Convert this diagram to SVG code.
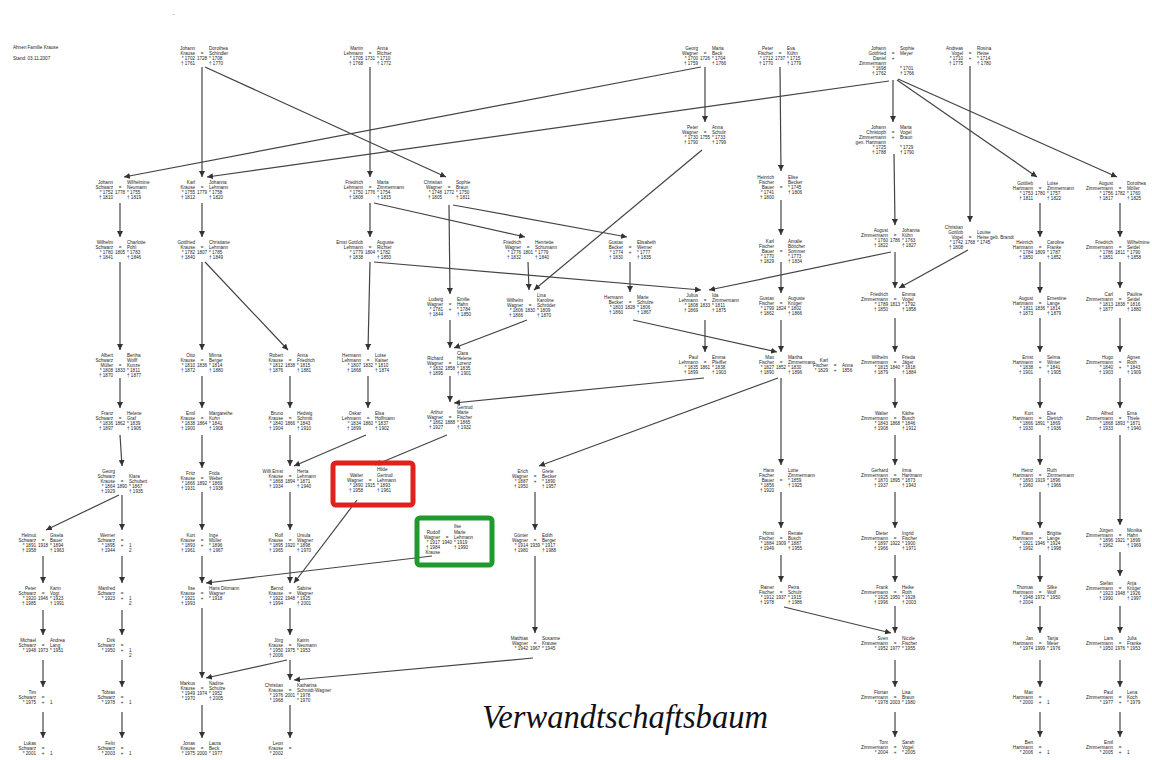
<svg xmlns="http://www.w3.org/2000/svg" width="1152" height="760" viewBox="0 0 1152 760">
<style>
text{font-family:"Liberation Sans",Arial,sans-serif;font-size:4.6px;fill:#1e1e1e}
.l{text-anchor:end}.m{text-anchor:middle}
.title{font-family:"Liberation Serif","DejaVu Serif",serif;font-style:italic;font-size:33px;fill:#111}
#connectors line{stroke:#444;stroke-width:1.2;fill:none;marker-end:url(#ah)}
.hl{fill:none;stroke-width:5;rx:3}
</style>
<defs>
<marker id="ah" viewBox="0 0 6 6" refX="6" refY="3" markerWidth="6" markerHeight="6" markerUnits="userSpaceOnUse" orient="auto"><path d="M0,0 L6,3 L0,6 z" fill="#333"/></marker>
</defs>
<rect width="1152" height="760" fill="#fff"/>
<text x="173" y="16">-</text>
<g id="header"><text x="13" y="49">Ahnen Familie Krause</text><text x="13" y="60">Stand: 03.11.2007</text></g>

<g id="connectors">
<line x1="202" y1="67" x2="202" y2="177"/>
<line x1="205" y1="67" x2="446" y2="177"/>
<line x1="370" y1="67" x2="370" y2="177"/>
<line x1="705" y1="67" x2="705" y2="122"/>
<line x1="701" y1="67" x2="124" y2="177"/>
<line x1="780" y1="67" x2="781" y2="171"/>
<line x1="893" y1="80" x2="893" y2="122"/>
<line x1="889" y1="81" x2="207" y2="177"/>
<line x1="897" y1="80" x2="1037" y2="177"/>
<line x1="898" y1="79" x2="1117" y2="177"/>
<line x1="970" y1="66" x2="970" y2="222"/>
<line x1="702" y1="150" x2="534" y2="290"/>
<line x1="894" y1="154" x2="895" y2="225"/>
<line x1="120" y1="203" x2="120" y2="237"/>
<line x1="202" y1="203" x2="202" y2="237"/>
<line x1="370" y1="203" x2="370" y2="237"/>
<line x1="374" y1="203" x2="525" y2="237"/>
<line x1="449" y1="205" x2="450" y2="294"/>
<line x1="453" y1="205" x2="627" y2="237"/>
<line x1="781" y1="200" x2="781" y2="235"/>
<line x1="1040" y1="203" x2="1040" y2="237"/>
<line x1="1120" y1="203" x2="1120" y2="237"/>
<line x1="120" y1="262" x2="120" y2="350"/>
<line x1="202" y1="262" x2="202" y2="350"/>
<line x1="205" y1="262" x2="288" y2="350"/>
<line x1="370" y1="262" x2="368" y2="350"/>
<line x1="374" y1="262" x2="701" y2="290"/>
<line x1="528" y1="262" x2="529" y2="290"/>
<line x1="630" y1="262" x2="630" y2="292"/>
<line x1="781" y1="262" x2="781" y2="293"/>
<line x1="895" y1="252" x2="895" y2="288"/>
<line x1="891" y1="252" x2="709" y2="290"/>
<line x1="968" y1="250" x2="899" y2="288"/>
<line x1="1040" y1="262" x2="1040" y2="293"/>
<line x1="1120" y1="262" x2="1120" y2="288"/>
<line x1="450" y1="320" x2="450" y2="348"/>
<line x1="527" y1="320" x2="454" y2="348"/>
<line x1="633" y1="320" x2="777" y2="352"/>
<line x1="705" y1="320" x2="705" y2="352"/>
<line x1="781" y1="320" x2="781" y2="352"/>
<line x1="895" y1="318" x2="895" y2="352"/>
<line x1="1040" y1="318" x2="1040" y2="352"/>
<line x1="1120" y1="318" x2="1120" y2="352"/>
<line x1="120" y1="378" x2="120" y2="408"/>
<line x1="202" y1="376" x2="202" y2="408"/>
<line x1="290" y1="376" x2="290" y2="408"/>
<line x1="368" y1="376" x2="368" y2="408"/>
<line x1="450" y1="376" x2="450" y2="402"/>
<line x1="704" y1="378" x2="454" y2="403"/>
<line x1="781" y1="378" x2="781" y2="465"/>
<line x1="778" y1="378" x2="539" y2="466"/>
<line x1="895" y1="378" x2="895" y2="408"/>
<line x1="1040" y1="378" x2="1040" y2="408"/>
<line x1="1120" y1="378" x2="1120" y2="408"/>
<line x1="120" y1="435" x2="122" y2="466"/>
<line x1="202" y1="435" x2="202" y2="468"/>
<line x1="290" y1="435" x2="290" y2="466"/>
<line x1="366" y1="435" x2="294" y2="466"/>
<line x1="447" y1="435" x2="375" y2="465"/>
<line x1="895" y1="435" x2="895" y2="465"/>
<line x1="1040" y1="435" x2="1040" y2="465"/>
<line x1="1120" y1="435" x2="1120" y2="525"/>
<line x1="119" y1="495" x2="46" y2="530"/>
<line x1="122" y1="495" x2="122" y2="530"/>
<line x1="202" y1="492" x2="202" y2="530"/>
<line x1="290" y1="492" x2="290" y2="530"/>
<line x1="357" y1="500" x2="294" y2="583"/>
<line x1="535" y1="492" x2="535" y2="530"/>
<line x1="781" y1="492" x2="781" y2="528"/>
<line x1="895" y1="492" x2="895" y2="528"/>
<line x1="1040" y1="492" x2="1040" y2="528"/>
<line x1="43" y1="556" x2="43" y2="583"/>
<line x1="122" y1="556" x2="122" y2="583"/>
<line x1="202" y1="556" x2="202" y2="583"/>
<line x1="290" y1="556" x2="290" y2="583"/>
<line x1="432" y1="556" x2="206" y2="583"/>
<line x1="535" y1="556" x2="535" y2="633"/>
<line x1="781" y1="555" x2="781" y2="582"/>
<line x1="895" y1="555" x2="895" y2="582"/>
<line x1="1040" y1="555" x2="1040" y2="582"/>
<line x1="1120" y1="552" x2="1120" y2="576"/>
<line x1="43" y1="610" x2="43" y2="635"/>
<line x1="122" y1="610" x2="122" y2="635"/>
<line x1="202" y1="608" x2="202" y2="678"/>
<line x1="290" y1="608" x2="290" y2="635"/>
<line x1="784" y1="607" x2="891" y2="633"/>
<line x1="895" y1="606" x2="895" y2="633"/>
<line x1="1040" y1="606" x2="1040" y2="633"/>
<line x1="1120" y1="606" x2="1120" y2="633"/>
<line x1="43" y1="660" x2="43" y2="687"/>
<line x1="122" y1="660" x2="122" y2="687"/>
<line x1="290" y1="660" x2="290" y2="680"/>
<line x1="287" y1="660" x2="206" y2="678"/>
<line x1="533" y1="658" x2="294" y2="680"/>
<line x1="895" y1="660" x2="895" y2="687"/>
<line x1="1040" y1="660" x2="1040" y2="687"/>
<line x1="1120" y1="660" x2="1120" y2="687"/>
<line x1="43" y1="712" x2="43" y2="738"/>
<line x1="122" y1="712" x2="122" y2="738"/>
<line x1="202" y1="705" x2="202" y2="738"/>
<line x1="290" y1="705" x2="290" y2="738"/>
<line x1="895" y1="712" x2="895" y2="737"/>
<line x1="1040" y1="712" x2="1040" y2="737"/>
<line x1="1120" y1="712" x2="1120" y2="737"/>
</g>

<!-- Row A -->
<g id="A0" transform="translate(202,44)"><text class="l" y="6"><tspan x="-7">Johann</tspan><tspan x="-7" dy="5">Krause</tspan><tspan x="-7" dy="5">* 1702</tspan><tspan x="-7" dy="5">† 1761</tspan></text><text class="m" y="11">=<tspan x="0" dy="5">1728</tspan></text><text y="6"><tspan x="7">Dorothea</tspan><tspan x="7" dy="5">Schindler</tspan><tspan x="7" dy="5">* 1708</tspan><tspan x="7" dy="5">† 1770</tspan></text></g>
<g id="A1" transform="translate(370,44)"><text class="l" y="6"><tspan x="-7">Martin</tspan><tspan x="-7" dy="5">Lehmann</tspan><tspan x="-7" dy="5">* 1705</tspan><tspan x="-7" dy="5">† 1768</tspan></text><text class="m" y="11">=<tspan x="0" dy="5">1731</tspan></text><text y="6"><tspan x="7">Anna</tspan><tspan x="7" dy="5">Richter</tspan><tspan x="7" dy="5">* 1710</tspan><tspan x="7" dy="5">† 1772</tspan></text></g>
<g id="A2" transform="translate(705,44)"><text class="l" y="6"><tspan x="-7">Georg</tspan><tspan x="-7" dy="5">Wagner</tspan><tspan x="-7" dy="5">* 1700</tspan><tspan x="-7" dy="5">† 1759</tspan></text><text class="m" y="11">=<tspan x="0" dy="5">1726</tspan></text><text y="6"><tspan x="7">Maria</tspan><tspan x="7" dy="5">Beck</tspan><tspan x="7" dy="5">* 1704</tspan><tspan x="7" dy="5">† 1766</tspan></text></g>
<g id="A3" transform="translate(780,44)"><text class="l" y="6"><tspan x="-7">Peter</tspan><tspan x="-7" dy="5">Fischer</tspan><tspan x="-7" dy="5">* 1712</tspan><tspan x="-7" dy="5">† 1770</tspan></text><text class="m" y="11">=<tspan x="0" dy="5">1737</tspan></text><text y="6"><tspan x="7">Eva</tspan><tspan x="7" dy="5">Kühn</tspan><tspan x="7" dy="5">* 1715</tspan><tspan x="7" dy="5">† 1779</tspan></text></g>
<g id="A4" transform="translate(893,44)"><text class="l" y="6"><tspan x="-7">Johann</tspan><tspan x="-7" dy="5">Gottfried</tspan><tspan x="-7" dy="5">Daniel</tspan><tspan x="-7" dy="5">Zimmermann</tspan><tspan x="-7" dy="5">* 1698</tspan><tspan x="-7" dy="5">† 1762</tspan></text><text class="m" y="11">=<tspan x="0" dy="5">+</tspan></text><text y="6"><tspan x="7">Sophie</tspan><tspan x="7" dy="5">Meyer</tspan><tspan x="7" dy="15">* 1701</tspan><tspan x="7" dy="5">† 1766</tspan></text></g>
<g id="A5" transform="translate(970,44)"><text class="l" y="6"><tspan x="-7">Andreas</tspan><tspan x="-7" dy="5">Vogel</tspan><tspan x="-7" dy="5">* 1710</tspan><tspan x="-7" dy="5">† 1775</tspan></text><text class="m" y="11">=<tspan x="0" dy="5">+</tspan></text><text y="6"><tspan x="7">Rosina</tspan><tspan x="7" dy="5">Heise</tspan><tspan x="7" dy="5">* 1714</tspan><tspan x="7" dy="5">† 1780</tspan></text></g>

<!-- Row B -->
<g id="B1" transform="translate(705,122)"><text class="l" y="7"><tspan x="-7">Peter</tspan><tspan x="-7" dy="5">Wagner</tspan><tspan x="-7" dy="5">* 1730</tspan><tspan x="-7" dy="5">† 1790</tspan></text><text class="m" y="12">=<tspan x="0" dy="5">1755</tspan></text><text y="7"><tspan x="7">Anna</tspan><tspan x="7" dy="5">Schulz</tspan><tspan x="7" dy="5">* 1733</tspan><tspan x="7" dy="5">† 1799</tspan></text></g>
<g id="B2" transform="translate(893,122)"><text class="l" y="7"><tspan x="-7">Johann</tspan><tspan x="-7" dy="5">Christoph</tspan><tspan x="-7" dy="5">Zimmermann</tspan><tspan x="-7" dy="5">gen. Hartmann</tspan><tspan x="-7" dy="5">* 1725</tspan><tspan x="-7" dy="5">† 1788</tspan></text><text class="m" y="12">=<tspan x="0" dy="5">+</tspan></text><text y="7"><tspan x="7">Maria</tspan><tspan x="7" dy="5">Vogel</tspan><tspan x="7" dy="5">Braun</tspan><tspan x="7" dy="10">* 1729</tspan><tspan x="7" dy="5">† 1790</tspan></text></g>

<!-- Row C -->
<g id="C0" transform="translate(120,177)"><text class="l" y="7"><tspan x="-7">Johann</tspan><tspan x="-7" dy="5">Schwarz</tspan><tspan x="-7" dy="5">* 1752</tspan><tspan x="-7" dy="5">† 1810</tspan></text><text class="m" y="12">=<tspan x="0" dy="5">1778</tspan></text><text y="7"><tspan x="7">Wilhelmine</tspan><tspan x="7" dy="5">Neumann</tspan><tspan x="7" dy="5">* 1755</tspan><tspan x="7" dy="5">† 1819</tspan></text></g>
<g id="C1" transform="translate(202,177)"><text class="l" y="7"><tspan x="-7">Karl</tspan><tspan x="-7" dy="5">Krause</tspan><tspan x="-7" dy="5">* 1755</tspan><tspan x="-7" dy="5">† 1812</tspan></text><text class="m" y="12">=<tspan x="0" dy="5">1779</tspan></text><text y="7"><tspan x="7">Johanna</tspan><tspan x="7" dy="5">Lehmann</tspan><tspan x="7" dy="5">* 1758</tspan><tspan x="7" dy="5">† 1820</tspan></text></g>
<g id="C2" transform="translate(370,177)"><text class="l" y="7"><tspan x="-7">Friedrich</tspan><tspan x="-7" dy="5">Lehmann</tspan><tspan x="-7" dy="5">* 1750</tspan><tspan x="-7" dy="5">† 1808</tspan></text><text class="m" y="12">=<tspan x="0" dy="5">1776</tspan></text><text y="7"><tspan x="7">Maria</tspan><tspan x="7" dy="5">Zimmermann</tspan><tspan x="7" dy="5">* 1754</tspan><tspan x="7" dy="5">† 1815</tspan></text></g>
<g id="C3" transform="translate(449,177)"><text class="l" y="7"><tspan x="-7">Christian</tspan><tspan x="-7" dy="5">Wagner</tspan><tspan x="-7" dy="5">* 1748</tspan><tspan x="-7" dy="5">† 1805</tspan></text><text class="m" y="12">=<tspan x="0" dy="5">1772</tspan></text><text y="7"><tspan x="7">Sophie</tspan><tspan x="7" dy="5">Braun</tspan><tspan x="7" dy="5">* 1750</tspan><tspan x="7" dy="5">† 1811</tspan></text></g>
<g id="C4" transform="translate(781,171)"><text class="l" y="8"><tspan x="-7">Heinrich</tspan><tspan x="-7" dy="5">Fischer</tspan><tspan x="-7" dy="5">Bauer</tspan><tspan x="-7" dy="5">* 1741</tspan><tspan x="-7" dy="5">† 1800</tspan></text><text class="m" y="18">=</text><text y="8"><tspan x="7">Elise</tspan><tspan x="7" dy="5">Becker</tspan><tspan x="7" dy="5">* 1745</tspan><tspan x="7" dy="5">† 1806</tspan></text></g>
<g id="C5" transform="translate(1040,178)"><text class="l" y="7"><tspan x="-7">Gottlieb</tspan><tspan x="-7" dy="5">Hartmann</tspan><tspan x="-7" dy="5">* 1753</tspan><tspan x="-7" dy="5">† 1811</tspan></text><text class="m" y="12">=<tspan x="0" dy="5">1780</tspan></text><text y="7"><tspan x="7">Luise</tspan><tspan x="7" dy="5">Zimmermann</tspan><tspan x="7" dy="5">* 1757</tspan><tspan x="7" dy="5">† 1822</tspan></text></g>
<g id="C6" transform="translate(1120,178)"><text class="l" y="7"><tspan x="-7">August</tspan><tspan x="-7" dy="5">Zimmermann</tspan><tspan x="-7" dy="5">* 1756</tspan><tspan x="-7" dy="5">† 1817</tspan></text><text class="m" y="12">=<tspan x="0" dy="5">1782</tspan></text><text y="7"><tspan x="7">Dorothea</tspan><tspan x="7" dy="5">Möller</tspan><tspan x="7" dy="5">* 1760</tspan><tspan x="7" dy="5">† 1825</tspan></text></g>

<!-- Row D -->
<g id="D0" transform="translate(120,237)"><text class="l" y="7"><tspan x="-7">Wilhelm</tspan><tspan x="-7" dy="5">Schwarz</tspan><tspan x="-7" dy="5">* 1780</tspan><tspan x="-7" dy="5">† 1841</tspan></text><text class="m" y="12">=<tspan x="0" dy="5">1805</tspan></text><text y="7"><tspan x="7">Charlotte</tspan><tspan x="7" dy="5">Pohl</tspan><tspan x="7" dy="5">* 1783</tspan><tspan x="7" dy="5">† 1846</tspan></text></g>
<g id="D1" transform="translate(202,237)"><text class="l" y="7"><tspan x="-7">Gottfried</tspan><tspan x="-7" dy="5">Krause</tspan><tspan x="-7" dy="5">* 1782</tspan><tspan x="-7" dy="5">† 1840</tspan></text><text class="m" y="12">=<tspan x="0" dy="5">1807</tspan></text><text y="7"><tspan x="7">Christiane</tspan><tspan x="7" dy="5">Lehmann</tspan><tspan x="7" dy="5">* 1785</tspan><tspan x="7" dy="5">† 1849</tspan></text></g>
<g id="D2" transform="translate(370,237)"><text class="l" y="7"><tspan x="-7">Ernst Gottlob</tspan><tspan x="-7" dy="5">Lehmann</tspan><tspan x="-7" dy="5">* 1779</tspan><tspan x="-7" dy="5">† 1838</tspan></text><text class="m" y="12">=<tspan x="0" dy="5">1804</tspan></text><text y="7"><tspan x="7">Auguste</tspan><tspan x="7" dy="5">Richter</tspan><tspan x="7" dy="5">* 1782</tspan><tspan x="7" dy="5">† 1850</tspan></text></g>
<g id="Dm1" transform="translate(528,237)"><text class="l" y="7"><tspan x="-7">Friedrich</tspan><tspan x="-7" dy="5">Wagner</tspan><tspan x="-7" dy="5">* 1776</tspan><tspan x="-7" dy="5">† 1832</tspan></text><text class="m" y="12">=<tspan x="0" dy="5">1801</tspan></text><text y="7"><tspan x="7">Henriette</tspan><tspan x="7" dy="5">Schumann</tspan><tspan x="7" dy="5">* 1779</tspan><tspan x="7" dy="5">† 1840</tspan></text></g>
<g id="Dm2" transform="translate(630,237)"><text class="l" y="7"><tspan x="-7">Gustav</tspan><tspan x="-7" dy="5">Becker</tspan><tspan x="-7" dy="5">* 1774</tspan><tspan x="-7" dy="5">† 1830</tspan></text><text class="m" y="12">=<tspan x="0" dy="5">+</tspan></text><text y="7"><tspan x="7">Elisabeth</tspan><tspan x="7" dy="5">Werner</tspan><tspan x="7" dy="5">* 1777</tspan><tspan x="7" dy="5">† 1835</tspan></text></g>
<g id="D4" transform="translate(781,235)"><text class="l" y="8"><tspan x="-7">Karl</tspan><tspan x="-7" dy="5">Fischer</tspan><tspan x="-7" dy="5">Bauer</tspan><tspan x="-7" dy="5">* 1770</tspan><tspan x="-7" dy="5">† 1829</tspan></text><text class="m" y="18">=</text><text y="8"><tspan x="7">Amalie</tspan><tspan x="7" dy="5">Böttcher</tspan><tspan x="7" dy="5">Sommer</tspan><tspan x="7" dy="5">* 1773</tspan><tspan x="7" dy="5">† 1834</tspan></text></g>
<g id="D5" transform="translate(895,225)"><text class="l" y="7"><tspan x="-7">August</tspan><tspan x="-7" dy="5">Zimmermann</tspan><tspan x="-7" dy="5">* 1760</tspan><tspan x="-7" dy="5">† 1822</tspan></text><text class="m" y="12">=<tspan x="0" dy="5">1786</tspan></text><text y="7"><tspan x="7">Johanna</tspan><tspan x="7" dy="5">Kühn</tspan><tspan x="7" dy="5">* 1763</tspan><tspan x="7" dy="5">† 1827</tspan></text></g>
<g id="D6" transform="translate(970,222)"><text class="l" y="7"><tspan x="-7">Christian</tspan><tspan x="-7" dy="5">Gottlob</tspan><tspan x="-7" dy="5">Vogel</tspan><tspan x="-7" dy="5">* 1742</tspan><tspan x="-7" dy="5">† 1808</tspan></text><text class="m" y="17">=<tspan x="0" dy="5">1768</tspan></text><text y="12"><tspan x="7">Louise</tspan><tspan x="7" dy="5">Heise geb. Brandt</tspan><tspan x="7" dy="5">* 1745</tspan></text></g>
<g id="D7" transform="translate(1040,237)"><text class="l" y="7"><tspan x="-7">Heinrich</tspan><tspan x="-7" dy="5">Hartmann</tspan><tspan x="-7" dy="5">* 1784</tspan><tspan x="-7" dy="5">† 1850</tspan></text><text class="m" y="12">=<tspan x="0" dy="5">1809</tspan></text><text y="7"><tspan x="7">Caroline</tspan><tspan x="7" dy="5">Franke</tspan><tspan x="7" dy="5">* 1787</tspan><tspan x="7" dy="5">† 1852</tspan></text></g>
<g id="D8" transform="translate(1120,237)"><text class="l" y="7"><tspan x="-7">Friedrich</tspan><tspan x="-7" dy="5">Zimmermann</tspan><tspan x="-7" dy="5">* 1786</tspan><tspan x="-7" dy="5">† 1851</tspan></text><text class="m" y="12">=<tspan x="0" dy="5">1811</tspan></text><text y="7"><tspan x="7">Wilhelmine</tspan><tspan x="7" dy="5">Seidel</tspan><tspan x="7" dy="5">* 1790</tspan><tspan x="7" dy="5">† 1858</tspan></text></g>

<!-- Row E -->
<g id="E450" transform="translate(450,294)"><text class="l" y="7"><tspan x="-7">Ludwig</tspan><tspan x="-7" dy="5">Wagner</tspan><tspan x="-7" dy="5">* 1781</tspan><tspan x="-7" dy="5">† 1844</tspan></text><text class="m" y="12">=<tspan x="0" dy="5">+</tspan></text><text y="7"><tspan x="7">Emilie</tspan><tspan x="7" dy="5">Hahn</tspan><tspan x="7" dy="5">* 1784</tspan><tspan x="7" dy="5">† 1850</tspan></text></g>
<g id="E530" transform="translate(530,290)"><text class="l" y="12"><tspan x="-7">Wilhelm</tspan><tspan x="-7" dy="5">Wagner</tspan><tspan x="-7" dy="5">* 1806</tspan><tspan x="-7" dy="5">† 1866</tspan></text><text class="m" y="17">=<tspan x="0" dy="5">1830</tspan></text><text y="7"><tspan x="7">Lina</tspan><tspan x="7" dy="5">Karoline</tspan><tspan x="7" dy="5">Schröder</tspan><tspan x="7" dy="5">* 1809</tspan><tspan x="7" dy="5">† 1870</tspan></text></g>
<g id="E630" transform="translate(630,292)"><text class="l" y="7"><tspan x="-7">Hermann</tspan><tspan x="-7" dy="5">Becker</tspan><tspan x="-7" dy="5">* 1803</tspan><tspan x="-7" dy="5">† 1860</tspan></text><text class="m" y="12">=<tspan x="0" dy="5">1828</tspan></text><text y="7"><tspan x="7">Marie</tspan><tspan x="7" dy="5">Schulze</tspan><tspan x="7" dy="5">* 1806</tspan><tspan x="7" dy="5">† 1867</tspan></text></g>
<g id="E705" transform="translate(705,290)"><text class="l" y="7"><tspan x="-7">Julius</tspan><tspan x="-7" dy="5">Lehmann</tspan><tspan x="-7" dy="5">* 1808</tspan><tspan x="-7" dy="5">† 1869</tspan></text><text class="m" y="12">=<tspan x="0" dy="5">1833</tspan></text><text y="7"><tspan x="7">Ida</tspan><tspan x="7" dy="5">Zimmermann</tspan><tspan x="7" dy="5">* 1811</tspan><tspan x="7" dy="5">† 1875</tspan></text></g>
<g id="E781" transform="translate(781,293)"><text class="l" y="7"><tspan x="-7">Gustav</tspan><tspan x="-7" dy="5">Fischer</tspan><tspan x="-7" dy="5">* 1799</tspan><tspan x="-7" dy="5">† 1862</tspan></text><text class="m" y="12">=<tspan x="0" dy="5">1824</tspan></text><text y="7"><tspan x="7">Auguste</tspan><tspan x="7" dy="5">Krüger</tspan><tspan x="7" dy="5">* 1802</tspan><tspan x="7" dy="5">† 1866</tspan></text></g>
<g id="E895" transform="translate(895,288)"><text class="l" y="8"><tspan x="-7">Friedrich</tspan><tspan x="-7" dy="5">Zimmermann</tspan><tspan x="-7" dy="5">* 1789</tspan><tspan x="-7" dy="5">† 1850</tspan></text><text class="m" y="13">=<tspan x="0" dy="5">1813</tspan></text><text y="8"><tspan x="7">Emma</tspan><tspan x="7" dy="5">Vogel</tspan><tspan x="7" dy="5">* 1792</tspan><tspan x="7" dy="5">† 1858</tspan></text></g>
<g id="E1040" transform="translate(1040,293)"><text class="l" y="7"><tspan x="-7">August</tspan><tspan x="-7" dy="5">Hartmann</tspan><tspan x="-7" dy="5">* 1811</tspan><tspan x="-7" dy="5">† 1873</tspan></text><text class="m" y="12">=<tspan x="0" dy="5">1836</tspan></text><text y="7"><tspan x="7">Ernestine</tspan><tspan x="7" dy="5">Lange</tspan><tspan x="7" dy="5">* 1814</tspan><tspan x="7" dy="5">† 1879</tspan></text></g>
<g id="E1120" transform="translate(1120,288)"><text class="l" y="8"><tspan x="-7">Carl</tspan><tspan x="-7" dy="5">Zimmermann</tspan><tspan x="-7" dy="5">* 1813</tspan><tspan x="-7" dy="5">† 1877</tspan></text><text class="m" y="13">=<tspan x="0" dy="5">1838</tspan></text><text y="8"><tspan x="7">Pauline</tspan><tspan x="7" dy="5">Seidel</tspan><tspan x="7" dy="5">* 1816</tspan><tspan x="7" dy="5">† 1880</tspan></text></g>

<!-- Row F -->
<g id="F120" transform="translate(120,350)"><text class="l" y="7"><tspan x="-7">Albert</tspan><tspan x="-7" dy="5">Schwarz</tspan><tspan x="-7" dy="5">Müller</tspan><tspan x="-7" dy="5">* 1808</tspan><tspan x="-7" dy="5">† 1870</tspan></text><text class="m" y="17">=<tspan x="0" dy="5">1833</tspan></text><text y="7"><tspan x="7">Bertha</tspan><tspan x="7" dy="5">Wolff</tspan><tspan x="7" dy="5">Kunze</tspan><tspan x="7" dy="5">* 1811</tspan><tspan x="7" dy="5">† 1877</tspan></text></g>
<g id="F202" transform="translate(202,350)"><text class="l" y="7"><tspan x="-7">Otto</tspan><tspan x="-7" dy="5">Krause</tspan><tspan x="-7" dy="5">* 1810</tspan><tspan x="-7" dy="5">† 1872</tspan></text><text class="m" y="12">=<tspan x="0" dy="5">1836</tspan></text><text y="7"><tspan x="7">Minna</tspan><tspan x="7" dy="5">Berger</tspan><tspan x="7" dy="5">* 1814</tspan><tspan x="7" dy="5">† 1880</tspan></text></g>
<g id="F290" transform="translate(290,350)"><text class="l" y="7"><tspan x="-7">Robert</tspan><tspan x="-7" dy="5">Krause</tspan><tspan x="-7" dy="5">* 1812</tspan><tspan x="-7" dy="5">† 1876</tspan></text><text class="m" y="12">=<tspan x="0" dy="5">1838</tspan></text><text y="7"><tspan x="7">Anna</tspan><tspan x="7" dy="5">Friedrich</tspan><tspan x="7" dy="5">* 1815</tspan><tspan x="7" dy="5">† 1881</tspan></text></g>
<g id="F368" transform="translate(368,350)"><text class="l" y="7"><tspan x="-7">Hermann</tspan><tspan x="-7" dy="5">Lehmann</tspan><tspan x="-7" dy="5">* 1807</tspan><tspan x="-7" dy="5">† 1868</tspan></text><text class="m" y="12">=<tspan x="0" dy="5">1832</tspan></text><text y="7"><tspan x="7">Luise</tspan><tspan x="7" dy="5">Kaiser</tspan><tspan x="7" dy="5">* 1810</tspan><tspan x="7" dy="5">† 1874</tspan></text></g>
<g id="F450" transform="translate(450,348)"><text class="l" y="12"><tspan x="-7">Richard</tspan><tspan x="-7" dy="5">Wagner</tspan><tspan x="-7" dy="5">* 1832</tspan><tspan x="-7" dy="5">† 1895</tspan></text><text class="m" y="17">=<tspan x="0" dy="5">1858</tspan></text><text y="7"><tspan x="7">Clara</tspan><tspan x="7" dy="5">Helene</tspan><tspan x="7" dy="5">Lorenz</tspan><tspan x="7" dy="5">* 1835</tspan><tspan x="7" dy="5">† 1901</tspan></text></g>
<g id="F705" transform="translate(705,352)"><text class="l" y="7"><tspan x="-7">Paul</tspan><tspan x="-7" dy="5">Lehmann</tspan><tspan x="-7" dy="5">* 1835</tspan><tspan x="-7" dy="5">† 1899</tspan></text><text class="m" y="12">=<tspan x="0" dy="5">1861</tspan></text><text y="7"><tspan x="7">Emma</tspan><tspan x="7" dy="5">Pfeiffer</tspan><tspan x="7" dy="5">* 1838</tspan><tspan x="7" dy="5">† 1903</tspan></text></g>
<g id="F781" transform="translate(781,352)"><text class="l" y="7"><tspan x="-7">Max</tspan><tspan x="-7" dy="5">Fischer</tspan><tspan x="-7" dy="5">* 1827</tspan><tspan x="-7" dy="5">† 1890</tspan></text><text class="m" y="12">=<tspan x="0" dy="5">1852</tspan></text><text y="7"><tspan x="7">Martha</tspan><tspan x="7" dy="5">Zimmermann</tspan><tspan x="7" dy="5">* 1830</tspan><tspan x="7" dy="5">† 1896</tspan></text></g>
<g id="F835" transform="translate(835,355)"><text class="l" y="7"><tspan x="-7">Karl</tspan><tspan x="-7" dy="5">Fischer</tspan><tspan x="-7" dy="5">* 1829</tspan></text><text class="m" y="12">=<tspan x="0" dy="5">+</tspan></text><text y="12"><tspan x="7">Anna</tspan><tspan x="7" dy="5">1856</tspan></text></g>
<g id="F895" transform="translate(895,352)"><text class="l" y="7"><tspan x="-7">Wilhelm</tspan><tspan x="-7" dy="5">Zimmermann</tspan><tspan x="-7" dy="5">* 1815</tspan><tspan x="-7" dy="5">† 1879</tspan></text><text class="m" y="12">=<tspan x="0" dy="5">1840</tspan></text><text y="7"><tspan x="7">Frieda</tspan><tspan x="7" dy="5">Jäger</tspan><tspan x="7" dy="5">* 1818</tspan><tspan x="7" dy="5">† 1884</tspan></text></g>
<g id="F1040" transform="translate(1040,352)"><text class="l" y="7"><tspan x="-7">Ernst</tspan><tspan x="-7" dy="5">Hartmann</tspan><tspan x="-7" dy="5">* 1838</tspan><tspan x="-7" dy="5">† 1901</tspan></text><text class="m" y="12">=<tspan x="0" dy="5">+</tspan></text><text y="7"><tspan x="7">Selma</tspan><tspan x="7" dy="5">Winter</tspan><tspan x="7" dy="5">* 1841</tspan><tspan x="7" dy="5">† 1905</tspan></text></g>
<g id="F1120" transform="translate(1120,352)"><text class="l" y="7"><tspan x="-7">Hugo</tspan><tspan x="-7" dy="5">Zimmermann</tspan><tspan x="-7" dy="5">* 1840</tspan><tspan x="-7" dy="5">† 1903</tspan></text><text class="m" y="12">=<tspan x="0" dy="5">+</tspan></text><text y="7"><tspan x="7">Agnes</tspan><tspan x="7" dy="5">Roth</tspan><tspan x="7" dy="5">* 1843</tspan><tspan x="7" dy="5">† 1909</tspan></text></g>

<!-- Row G -->
<g id="G120" transform="translate(120,408)"><text class="l" y="7"><tspan x="-7">Franz</tspan><tspan x="-7" dy="5">Schwarz</tspan><tspan x="-7" dy="5">* 1836</tspan><tspan x="-7" dy="5">† 1897</tspan></text><text class="m" y="12">=<tspan x="0" dy="5">1862</tspan></text><text y="7"><tspan x="7">Helene</tspan><tspan x="7" dy="5">Graf</tspan><tspan x="7" dy="5">* 1839</tspan><tspan x="7" dy="5">† 1906</tspan></text></g>
<g id="G202" transform="translate(202,408)"><text class="l" y="7"><tspan x="-7">Emil</tspan><tspan x="-7" dy="5">Krause</tspan><tspan x="-7" dy="5">* 1838</tspan><tspan x="-7" dy="5">† 1900</tspan></text><text class="m" y="12">=<tspan x="0" dy="5">1864</tspan></text><text y="7"><tspan x="7">Margarethe</tspan><tspan x="7" dy="5">Kuhn</tspan><tspan x="7" dy="5">* 1841</tspan><tspan x="7" dy="5">† 1908</tspan></text></g>
<g id="G290" transform="translate(290,408)"><text class="l" y="7"><tspan x="-7">Bruno</tspan><tspan x="-7" dy="5">Krause</tspan><tspan x="-7" dy="5">* 1840</tspan><tspan x="-7" dy="5">† 1904</tspan></text><text class="m" y="12">=<tspan x="0" dy="5">1866</tspan></text><text y="7"><tspan x="7">Hedwig</tspan><tspan x="7" dy="5">Schmitt</tspan><tspan x="7" dy="5">* 1843</tspan><tspan x="7" dy="5">† 1910</tspan></text></g>
<g id="G368" transform="translate(368,408)"><text class="l" y="7"><tspan x="-7">Oskar</tspan><tspan x="-7" dy="5">Lehmann</tspan><tspan x="-7" dy="5">* 1834</tspan><tspan x="-7" dy="5">† 1899</tspan></text><text class="m" y="12">=<tspan x="0" dy="5">1860</tspan></text><text y="7"><tspan x="7">Elsa</tspan><tspan x="7" dy="5">Hoffmann</tspan><tspan x="7" dy="5">* 1837</tspan><tspan x="7" dy="5">† 1902</tspan></text></g>
<g id="G450" transform="translate(450,402)"><text class="l" y="12"><tspan x="-7">Arthur</tspan><tspan x="-7" dy="5">Wagner</tspan><tspan x="-7" dy="5">* 1862</tspan><tspan x="-7" dy="5">† 1927</tspan></text><text class="m" y="17">=<tspan x="0" dy="5">1888</tspan></text><text y="7"><tspan x="7">Gertrud</tspan><tspan x="7" dy="5">Marie</tspan><tspan x="7" dy="5">Fischer</tspan><tspan x="7" dy="5">* 1865</tspan><tspan x="7" dy="5">† 1932</tspan></text></g>
<g id="G895" transform="translate(895,408)"><text class="l" y="7"><tspan x="-7">Walter</tspan><tspan x="-7" dy="5">Zimmermann</tspan><tspan x="-7" dy="5">* 1843</tspan><tspan x="-7" dy="5">† 1908</tspan></text><text class="m" y="12">=<tspan x="0" dy="5">1868</tspan></text><text y="7"><tspan x="7">Käthe</tspan><tspan x="7" dy="5">Busch</tspan><tspan x="7" dy="5">* 1846</tspan><tspan x="7" dy="5">† 1912</tspan></text></g>
<g id="G1040" transform="translate(1040,408)"><text class="l" y="7"><tspan x="-7">Kurt</tspan><tspan x="-7" dy="5">Hartmann</tspan><tspan x="-7" dy="5">* 1866</tspan><tspan x="-7" dy="5">† 1930</tspan></text><text class="m" y="12">=<tspan x="0" dy="5">1891</tspan></text><text y="7"><tspan x="7">Else</tspan><tspan x="7" dy="5">Dietrich</tspan><tspan x="7" dy="5">* 1869</tspan><tspan x="7" dy="5">† 1936</tspan></text></g>
<g id="G1120" transform="translate(1120,408)"><text class="l" y="7"><tspan x="-7">Alfred</tspan><tspan x="-7" dy="5">Zimmermann</tspan><tspan x="-7" dy="5">* 1868</tspan><tspan x="-7" dy="5">† 1933</tspan></text><text class="m" y="12">=<tspan x="0" dy="5">1893</tspan></text><text y="7"><tspan x="7">Erna</tspan><tspan x="7" dy="5">Thiele</tspan><tspan x="7" dy="5">* 1871</tspan><tspan x="7" dy="5">† 1940</tspan></text></g>

<!-- Row H -->
<g id="H120" transform="translate(122,466)"><text class="l" y="7"><tspan x="-7">Georg</tspan><tspan x="-7" dy="5">Schwarz</tspan><tspan x="-7" dy="5">Krause</tspan><tspan x="-7" dy="5">* 1864</tspan><tspan x="-7" dy="5">† 1929</tspan></text><text class="m" y="17">=<tspan x="0" dy="5">1890</tspan></text><text y="12"><tspan x="7">Klara</tspan><tspan x="7" dy="5">Schubert</tspan><tspan x="7" dy="5">* 1867</tspan><tspan x="7" dy="5">† 1935</tspan></text></g>
<g id="H202" transform="translate(202,468)"><text class="l" y="7"><tspan x="-7">Fritz</tspan><tspan x="-7" dy="5">Krause</tspan><tspan x="-7" dy="5">* 1866</tspan><tspan x="-7" dy="5">† 1931</tspan></text><text class="m" y="12">=<tspan x="0" dy="5">1892</tspan></text><text y="7"><tspan x="7">Frida</tspan><tspan x="7" dy="5">Weber</tspan><tspan x="7" dy="5">* 1869</tspan><tspan x="7" dy="5">† 1938</tspan></text></g>
<g id="H290" transform="translate(290,466)"><text class="l" y="7"><tspan x="-7">Willi Ernst</tspan><tspan x="-7" dy="5">Krause</tspan><tspan x="-7" dy="5">* 1868</tspan><tspan x="-7" dy="5">† 1934</tspan></text><text class="m" y="12">=<tspan x="0" dy="5">1894</tspan></text><text y="7"><tspan x="7">Herta</tspan><tspan x="7" dy="5">Lehmann</tspan><tspan x="7" dy="5">* 1871</tspan><tspan x="7" dy="5">† 1940</tspan></text></g>
<g id="Hred" transform="translate(370,465)"><text class="l" y="12"><tspan x="-7">Walter</tspan><tspan x="-7" dy="5">Wagner</tspan><tspan x="-7" dy="5">* 1890</tspan><tspan x="-7" dy="5">† 1958</tspan></text><text class="m" y="17">=<tspan x="0" dy="5">1915</tspan></text><text y="6"><tspan x="7">Hilde</tspan><tspan x="7" dy="6">Gertrud</tspan><tspan x="7" dy="5">Lehmann</tspan><tspan x="7" dy="5">* 1893</tspan><tspan x="7" dy="5">† 1961</tspan></text><rect class="hl" x="-37" y="-2" width="80" height="42" stroke="#e3211c"/></g>
<g id="H535" transform="translate(535,466)"><text class="l" y="7"><tspan x="-7">Erich</tspan><tspan x="-7" dy="5">Wagner</tspan><tspan x="-7" dy="5">* 1887</tspan><tspan x="-7" dy="5">† 1950</tspan></text><text class="m" y="12">=<tspan x="0" dy="5">+</tspan></text><text y="7"><tspan x="7">Grete</tspan><tspan x="7" dy="5">Becker</tspan><tspan x="7" dy="5">* 1890</tspan><tspan x="7" dy="5">† 1957</tspan></text></g>
<g id="H781" transform="translate(781,465)"><text class="l" y="7"><tspan x="-7">Hans</tspan><tspan x="-7" dy="5">Fischer</tspan><tspan x="-7" dy="5">Bauer</tspan><tspan x="-7" dy="5">* 1856</tspan><tspan x="-7" dy="5">† 1920</tspan></text><text class="m" y="17">=</text><text y="7"><tspan x="7">Lotte</tspan><tspan x="7" dy="5">Zimmermann</tspan><tspan x="7" dy="5">* 1859</tspan><tspan x="7" dy="5">† 1925</tspan></text></g>
<g id="H895" transform="translate(895,465)"><text class="l" y="7"><tspan x="-7">Gerhard</tspan><tspan x="-7" dy="5">Zimmermann</tspan><tspan x="-7" dy="5">* 1870</tspan><tspan x="-7" dy="5">† 1937</tspan></text><text class="m" y="12">=<tspan x="0" dy="5">1895</tspan></text><text y="7"><tspan x="7">Irma</tspan><tspan x="7" dy="5">Hartmann</tspan><tspan x="7" dy="5">* 1873</tspan><tspan x="7" dy="5">† 1943</tspan></text></g>
<g id="H1040" transform="translate(1040,465)"><text class="l" y="7"><tspan x="-7">Heinz</tspan><tspan x="-7" dy="5">Hartmann</tspan><tspan x="-7" dy="5">* 1893</tspan><tspan x="-7" dy="5">† 1960</tspan></text><text class="m" y="12">=<tspan x="0" dy="5">1919</tspan></text><text y="7"><tspan x="7">Ruth</tspan><tspan x="7" dy="5">Zimmermann</tspan><tspan x="7" dy="5">* 1896</tspan><tspan x="7" dy="5">† 1966</tspan></text></g>

<!-- Row I -->
<g id="I43" transform="translate(43,530)"><text class="l" y="7"><tspan x="-7">Helmut</tspan><tspan x="-7" dy="5">Schwarz</tspan><tspan x="-7" dy="5">* 1891</tspan><tspan x="-7" dy="5">† 1958</tspan></text><text class="m" y="12">=<tspan x="0" dy="5">1918</tspan></text><text y="7"><tspan x="7">Gisela</tspan><tspan x="7" dy="5">Bauer</tspan><tspan x="7" dy="5">* 1894</tspan><tspan x="7" dy="5">† 1963</tspan></text></g>
<g id="I122" transform="translate(122,530)"><text class="l" y="7"><tspan x="-7">Werner</tspan><tspan x="-7" dy="5">Schwarz</tspan><tspan x="-7" dy="5">* 1895</tspan><tspan x="-7" dy="5">† 1944</tspan></text><text class="m" y="12">=<tspan x="0" dy="5">+</tspan></text><text y="17"><tspan x="7">1</tspan><tspan x="7" dy="5">2</tspan></text></g>
<g id="I202" transform="translate(202,530)"><text class="l" y="7"><tspan x="-7">Kurt</tspan><tspan x="-7" dy="5">Krause</tspan><tspan x="-7" dy="5">* 1893</tspan><tspan x="-7" dy="5">† 1961</tspan></text><text class="m" y="12">=<tspan x="0" dy="5">+</tspan></text><text y="7"><tspan x="7">Inge</tspan><tspan x="7" dy="5">Müller</tspan><tspan x="7" dy="5">* 1896</tspan><tspan x="7" dy="5">† 1967</tspan></text></g>
<g id="I290" transform="translate(290,530)"><text class="l" y="7"><tspan x="-7">Rolf</tspan><tspan x="-7" dy="5">Krause</tspan><tspan x="-7" dy="5">* 1895</tspan><tspan x="-7" dy="5">† 1965</tspan></text><text class="m" y="12">=<tspan x="0" dy="5">1920</tspan></text><text y="7"><tspan x="7">Ursula</tspan><tspan x="7" dy="5">Wagner</tspan><tspan x="7" dy="5">* 1898</tspan><tspan x="7" dy="5">† 1970</tspan></text></g>
<g id="Igreen" transform="translate(447,522)"><text class="l" y="12"><tspan x="-7">Rudolf</tspan><tspan x="-7" dy="5">Wagner</tspan><tspan x="-7" dy="5">* 1917</tspan><tspan x="-7" dy="5">† 1984</tspan><tspan x="-7" dy="5">Krause</tspan></text><text class="m" y="17">=<tspan x="0" dy="5">1940</tspan></text><text y="6"><tspan x="7">Ilse</tspan><tspan x="7" dy="6">Marie</tspan><tspan x="7" dy="5">Lehmann</tspan><tspan x="7" dy="5">* 1919</tspan><tspan x="7" dy="5">† 1990</tspan></text><rect class="hl" x="-30" y="-4" width="75" height="47" stroke="#1e9b2c"/></g>
<g id="I535" transform="translate(535,530)"><text class="l" y="7"><tspan x="-7">Günter</tspan><tspan x="-7" dy="5">Wagner</tspan><tspan x="-7" dy="5">* 1914</tspan><tspan x="-7" dy="5">† 1980</tspan></text><text class="m" y="12">=<tspan x="0" dy="5">1939</tspan></text><text y="7"><tspan x="7">Edith</tspan><tspan x="7" dy="5">Berger</tspan><tspan x="7" dy="5">* 1917</tspan><tspan x="7" dy="5">† 1988</tspan></text></g>
<g id="I781" transform="translate(781,528)"><text class="l" y="7"><tspan x="-7">Horst</tspan><tspan x="-7" dy="5">Fischer</tspan><tspan x="-7" dy="5">* 1884</tspan><tspan x="-7" dy="5">† 1949</tspan></text><text class="m" y="12">=<tspan x="0" dy="5">1909</tspan></text><text y="7"><tspan x="7">Renate</tspan><tspan x="7" dy="5">Busch</tspan><tspan x="7" dy="5">* 1887</tspan><tspan x="7" dy="5">† 1955</tspan></text></g>
<g id="I895" transform="translate(895,528)"><text class="l" y="7"><tspan x="-7">Dieter</tspan><tspan x="-7" dy="5">Zimmermann</tspan><tspan x="-7" dy="5">* 1897</tspan><tspan x="-7" dy="5">† 1966</tspan></text><text class="m" y="12">=<tspan x="0" dy="5">1922</tspan></text><text y="7"><tspan x="7">Ingrid</tspan><tspan x="7" dy="5">Fischer</tspan><tspan x="7" dy="5">* 1900</tspan><tspan x="7" dy="5">† 1971</tspan></text></g>
<g id="I1040" transform="translate(1040,528)"><text class="l" y="7"><tspan x="-7">Klaus</tspan><tspan x="-7" dy="5">Hartmann</tspan><tspan x="-7" dy="5">* 1921</tspan><tspan x="-7" dy="5">† 1992</tspan></text><text class="m" y="12">=<tspan x="0" dy="5">1946</tspan></text><text y="7"><tspan x="7">Brigitte</tspan><tspan x="7" dy="5">Lange</tspan><tspan x="7" dy="5">* 1924</tspan><tspan x="7" dy="5">† 1998</tspan></text></g>
<g id="I1120" transform="translate(1120,525)"><text class="l" y="7"><tspan x="-7">Jürgen</tspan><tspan x="-7" dy="5">Zimmermann</tspan><tspan x="-7" dy="5">* 1896</tspan><tspan x="-7" dy="5">† 1962</tspan></text><text class="m" y="12">=<tspan x="0" dy="5">1921</tspan></text><text y="7"><tspan x="7">Monika</tspan><tspan x="7" dy="5">Hahn</tspan><tspan x="7" dy="5">* 1899</tspan><tspan x="7" dy="5">† 1969</tspan></text></g>

<!-- Row J -->
<g id="J43" transform="translate(43,583)"><text class="l" y="7"><tspan x="-7">Peter</tspan><tspan x="-7" dy="5">Schwarz</tspan><tspan x="-7" dy="5">* 1920</tspan><tspan x="-7" dy="5">† 1985</tspan></text><text class="m" y="12">=<tspan x="0" dy="5">1946</tspan></text><text y="7"><tspan x="7">Karin</tspan><tspan x="7" dy="5">Vogt</tspan><tspan x="7" dy="5">* 1923</tspan><tspan x="7" dy="5">† 1991</tspan></text></g>
<g id="J122" transform="translate(122,583)"><text class="l" y="7"><tspan x="-7">Manfred</tspan><tspan x="-7" dy="5">Schwarz</tspan><tspan x="-7" dy="5">* 1923</tspan></text><text class="m" y="12">=<tspan x="0" dy="5">+</tspan></text><text y="17"><tspan x="7">1</tspan><tspan x="7" dy="5">2</tspan></text></g>
<g id="J202" transform="translate(202,583)"><text class="l" y="7"><tspan x="-7">Ilse</tspan><tspan x="-7" dy="5">Krause</tspan><tspan x="-7" dy="5">* 1921</tspan><tspan x="-7" dy="5">† 1993</tspan></text><text class="m" y="12">=<tspan x="0" dy="5">+</tspan></text><text y="7"><tspan x="7">Hans Dittmann</tspan><tspan x="7" dy="5">Wagner</tspan><tspan x="7" dy="5">* 1918</tspan></text></g>
<g id="J290" transform="translate(290,583)"><text class="l" y="7"><tspan x="-7">Bernd</tspan><tspan x="-7" dy="5">Krause</tspan><tspan x="-7" dy="5">* 1922</tspan><tspan x="-7" dy="5">† 1994</tspan></text><text class="m" y="12">=<tspan x="0" dy="5">1948</tspan></text><text y="7"><tspan x="7">Sabine</tspan><tspan x="7" dy="5">Wagner</tspan><tspan x="7" dy="5">* 1925</tspan><tspan x="7" dy="5">† 2001</tspan></text></g>
<g id="J781" transform="translate(781,582)"><text class="l" y="7"><tspan x="-7">Rainer</tspan><tspan x="-7" dy="5">Fischer</tspan><tspan x="-7" dy="5">* 1912</tspan><tspan x="-7" dy="5">† 1978</tspan></text><text class="m" y="12">=<tspan x="0" dy="5">1937</tspan></text><text y="7"><tspan x="7">Petra</tspan><tspan x="7" dy="5">Schulz</tspan><tspan x="7" dy="5">* 1915</tspan><tspan x="7" dy="5">† 1986</tspan></text></g>
<g id="J895" transform="translate(895,582)"><text class="l" y="7"><tspan x="-7">Frank</tspan><tspan x="-7" dy="5">Zimmermann</tspan><tspan x="-7" dy="5">* 1925</tspan><tspan x="-7" dy="5">† 1996</tspan></text><text class="m" y="12">=<tspan x="0" dy="5">1950</tspan></text><text y="7"><tspan x="7">Heike</tspan><tspan x="7" dy="5">Roth</tspan><tspan x="7" dy="5">* 1928</tspan><tspan x="7" dy="5">† 2003</tspan></text></g>
<g id="J1040" transform="translate(1040,582)"><text class="l" y="7"><tspan x="-7">Thomas</tspan><tspan x="-7" dy="5">Hartmann</tspan><tspan x="-7" dy="5">* 1948</tspan><tspan x="-7" dy="5">† 2004</tspan></text><text class="m" y="12">=<tspan x="0" dy="5">1972</tspan></text><text y="7"><tspan x="7">Silke</tspan><tspan x="7" dy="5">Wolf</tspan><tspan x="7" dy="5">* 1950</tspan></text></g>
<g id="J1120" transform="translate(1120,576)"><text class="l" y="9"><tspan x="-7">Stefan</tspan><tspan x="-7" dy="5">Zimmermann</tspan><tspan x="-7" dy="5">* 1923</tspan><tspan x="-7" dy="5">† 1990</tspan></text><text class="m" y="14">=<tspan x="0" dy="5">1948</tspan></text><text y="9"><tspan x="7">Anja</tspan><tspan x="7" dy="5">Krüger</tspan><tspan x="7" dy="5">* 1926</tspan><tspan x="7" dy="5">† 1997</tspan></text></g>

<!-- Row K -->
<g id="K43" transform="translate(43,635)"><text class="l" y="7"><tspan x="-7">Michael</tspan><tspan x="-7" dy="5">Schwarz</tspan><tspan x="-7" dy="5">* 1948</tspan></text><text class="m" y="12">=<tspan x="0" dy="5">1973</tspan></text><text y="7"><tspan x="7">Andrea</tspan><tspan x="7" dy="5">Lang</tspan><tspan x="7" dy="5">* 1951</tspan></text></g>
<g id="K122" transform="translate(122,635)"><text class="l" y="7"><tspan x="-7">Dirk</tspan><tspan x="-7" dy="5">Schwarz</tspan><tspan x="-7" dy="5">* 1950</tspan></text><text class="m" y="12">=<tspan x="0" dy="5">+</tspan></text><text y="17"><tspan x="7">1</tspan><tspan x="7" dy="5">2</tspan></text></g>
<g id="K290" transform="translate(290,635)"><text class="l" y="7"><tspan x="-7">Jörg</tspan><tspan x="-7" dy="5">Krause</tspan><tspan x="-7" dy="5">* 1950</tspan><tspan x="-7" dy="5">† 2006</tspan></text><text class="m" y="12">=<tspan x="0" dy="5">1975</tspan></text><text y="7"><tspan x="7">Katrin</tspan><tspan x="7" dy="5">Neumann</tspan><tspan x="7" dy="5">* 1953</tspan></text></g>
<g id="K535" transform="translate(535,633)"><text class="l" y="7"><tspan x="-7">Matthias</tspan><tspan x="-7" dy="5">Wagner</tspan><tspan x="-7" dy="5">* 1942</tspan></text><text class="m" y="12">=<tspan x="0" dy="5">1967</tspan></text><text y="7"><tspan x="7">Susanne</tspan><tspan x="7" dy="5">Krause</tspan><tspan x="7" dy="5">* 1945</tspan></text></g>
<g id="K895" transform="translate(895,633)"><text class="l" y="7"><tspan x="-7">Sven</tspan><tspan x="-7" dy="5">Zimmermann</tspan><tspan x="-7" dy="5">* 1952</tspan></text><text class="m" y="12">=<tspan x="0" dy="5">1977</tspan></text><text y="7"><tspan x="7">Nicole</tspan><tspan x="7" dy="5">Fischer</tspan><tspan x="7" dy="5">* 1955</tspan></text></g>
<g id="K1040" transform="translate(1040,633)"><text class="l" y="7"><tspan x="-7">Jan</tspan><tspan x="-7" dy="5">Hartmann</tspan><tspan x="-7" dy="5">* 1974</tspan></text><text class="m" y="12">=<tspan x="0" dy="5">1999</tspan></text><text y="7"><tspan x="7">Tanja</tspan><tspan x="7" dy="5">Meier</tspan><tspan x="7" dy="5">* 1976</tspan></text></g>
<g id="K1120" transform="translate(1120,633)"><text class="l" y="7"><tspan x="-7">Lars</tspan><tspan x="-7" dy="5">Zimmermann</tspan><tspan x="-7" dy="5">* 1950</tspan></text><text class="m" y="12">=<tspan x="0" dy="5">1976</tspan></text><text y="7"><tspan x="7">Julia</tspan><tspan x="7" dy="5">Franke</tspan><tspan x="7" dy="5">* 1953</tspan></text></g>

<!-- Row L -->
<g id="L43" transform="translate(43,687)"><text class="l" y="7"><tspan x="-7">Tim</tspan><tspan x="-7" dy="5">Schwarz</tspan><tspan x="-7" dy="5">* 1975</tspan></text><text class="m" y="12">=<tspan x="0" dy="5">+</tspan></text><text y="17"><tspan x="7">1</tspan></text></g>
<g id="L122" transform="translate(122,687)"><text class="l" y="7"><tspan x="-7">Tobias</tspan><tspan x="-7" dy="5">Schwarz</tspan><tspan x="-7" dy="5">* 1978</tspan></text><text class="m" y="12">=<tspan x="0" dy="5">+</tspan></text><text y="17"><tspan x="7">1</tspan></text></g>
<g id="L202" transform="translate(202,678)"><text class="l" y="7"><tspan x="-7">Markus</tspan><tspan x="-7" dy="5">Krause</tspan><tspan x="-7" dy="5">* 1949</tspan><tspan x="-7" dy="5">* 1970</tspan></text><text class="m" y="12">=<tspan x="0" dy="5">1974</tspan></text><text y="7"><tspan x="7">Nadine</tspan><tspan x="7" dy="5">Schulze</tspan><tspan x="7" dy="5">* 1952</tspan><tspan x="7" dy="5">† 2005</tspan></text></g>
<g id="L290" transform="translate(290,680)"><text class="l" y="7"><tspan x="-7">Christian</tspan><tspan x="-7" dy="5">Krause</tspan><tspan x="-7" dy="5">* 1976</tspan><tspan x="-7" dy="5">* 1968</tspan></text><text class="m" y="12">=<tspan x="0" dy="5">2001</tspan></text><text y="7"><tspan x="7">Katharina</tspan><tspan x="7" dy="5">Schmidt-Wagner</tspan><tspan x="7" dy="5">* 1978</tspan><tspan x="7" dy="5">* 1970</tspan></text></g>
<g id="L895" transform="translate(895,687)"><text class="l" y="7"><tspan x="-7">Florian</tspan><tspan x="-7" dy="5">Zimmermann</tspan><tspan x="-7" dy="5">* 1978</tspan></text><text class="m" y="12">=<tspan x="0" dy="5">2003</tspan></text><text y="7"><tspan x="7">Lisa</tspan><tspan x="7" dy="5">Braun</tspan><tspan x="7" dy="5">* 1980</tspan></text></g>
<g id="L1040" transform="translate(1040,687)"><text class="l" y="7"><tspan x="-7">Max</tspan><tspan x="-7" dy="5">Hartmann</tspan><tspan x="-7" dy="5">* 2000</tspan></text><text class="m" y="12">=<tspan x="0" dy="5">+</tspan></text><text y="17"><tspan x="7">1</tspan></text></g>
<g id="L1120" transform="translate(1120,687)"><text class="l" y="7"><tspan x="-7">Paul</tspan><tspan x="-7" dy="5">Zimmermann</tspan><tspan x="-7" dy="5">* 1977</tspan></text><text class="m" y="12">=<tspan x="0" dy="5">+</tspan></text><text y="7"><tspan x="7">Lena</tspan><tspan x="7" dy="5">Koch</tspan><tspan x="7" dy="5">* 1979</tspan></text></g>

<!-- Row M -->
<g id="M43" transform="translate(43,738)"><text class="l" y="7"><tspan x="-7">Lukas</tspan><tspan x="-7" dy="5">Schwarz</tspan><tspan x="-7" dy="5">* 2001</tspan></text><text class="m" y="12">=<tspan x="0" dy="5">+</tspan></text><text y="17"><tspan x="7">1</tspan></text></g>
<g id="M122" transform="translate(122,738)"><text class="l" y="7"><tspan x="-7">Felix</tspan><tspan x="-7" dy="5">Schwarz</tspan><tspan x="-7" dy="5">* 2003</tspan></text><text class="m" y="12">=<tspan x="0" dy="5">+</tspan></text><text y="17"><tspan x="7">1</tspan></text></g>
<g id="M202" transform="translate(202,738)"><text class="l" y="7"><tspan x="-7">Jonas</tspan><tspan x="-7" dy="5">Krause</tspan><tspan x="-7" dy="5">* 1975</tspan></text><text class="m" y="12">=<tspan x="0" dy="5">2000</tspan></text><text y="7"><tspan x="7">Laura</tspan><tspan x="7" dy="5">Beck</tspan><tspan x="7" dy="5">* 1977</tspan></text></g>
<g id="M290" transform="translate(290,738)"><text class="l" y="7"><tspan x="-7">Leon</tspan><tspan x="-7" dy="5">Krause</tspan><tspan x="-7" dy="5">* 2002</tspan></text><text class="m" y="12">=</text></g>
<g id="M895" transform="translate(895,737)"><text class="l" y="7"><tspan x="-7">Tom</tspan><tspan x="-7" dy="5">Zimmermann</tspan><tspan x="-7" dy="5">* 2004</tspan></text><text class="m" y="12">=<tspan x="0" dy="5">+</tspan></text><text y="7"><tspan x="7">Sarah</tspan><tspan x="7" dy="5">Vogel</tspan><tspan x="7" dy="5">* 2005</tspan></text></g>
<g id="M1040" transform="translate(1040,737)"><text class="l" y="7"><tspan x="-7">Ben</tspan><tspan x="-7" dy="5">Hartmann</tspan><tspan x="-7" dy="5">* 2006</tspan></text><text class="m" y="12">=<tspan x="0" dy="5">+</tspan></text><text y="17"><tspan x="7">1</tspan></text></g>
<g id="M1120" transform="translate(1120,737)"><text class="l" y="7"><tspan x="-7">Emil</tspan><tspan x="-7" dy="5">Zimmermann</tspan><tspan x="-7" dy="5">* 2005</tspan></text><text class="m" y="12">=<tspan x="0" dy="5">+</tspan></text><text y="17"><tspan x="7">1</tspan></text></g>

<text class="title" x="482" y="728" textLength="286" lengthAdjust="spacingAndGlyphs">Verwandtschaftsbaum</text>
</svg>
